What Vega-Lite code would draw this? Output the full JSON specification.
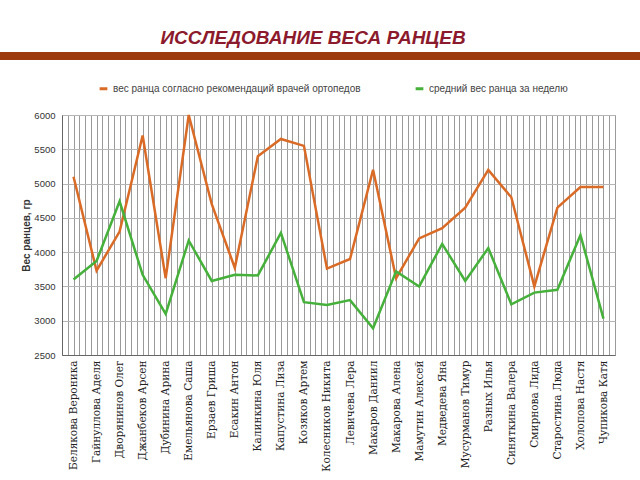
{
  "$schema": "https://vega.github.io/schema/vega-lite/v6.json",
  "padding": {"left": 0, "right": 0, "top": 29, "bottom": 0},
  "background": "white",
  "spacing": 55,
  "bounds": "flush",
  "datasets": {
    "weights": [
      {"name": "Белякова Вероника", "series": "вес ранца согласно рекомендаций врачей ортопедов", "value": 5100},
      {"name": "Гайнуллова Аделя", "series": "вес ранца согласно рекомендаций врачей ортопедов", "value": 3730},
      {"name": "Дворянинов Олег", "series": "вес ранца согласно рекомендаций врачей ортопедов", "value": 4300},
      {"name": "Джанбеков Арсен", "series": "вес ранца согласно рекомендаций врачей ортопедов", "value": 5700},
      {"name": "Дубинина Арина", "series": "вес ранца согласно рекомендаций врачей ортопедов", "value": 3620},
      {"name": "Емельянова Саша", "series": "вес ранца согласно рекомендаций врачей ортопедов", "value": 6000},
      {"name": "Ерзаев Гриша", "series": "вес ранца согласно рекомендаций врачей ортопедов", "value": 4700},
      {"name": "Есакин Антон", "series": "вес ранца согласно рекомендаций врачей ортопедов", "value": 3770},
      {"name": "Калинкина Юля", "series": "вес ранца согласно рекомендаций врачей ортопедов", "value": 5400},
      {"name": "Капустина Лиза", "series": "вес ранца согласно рекомендаций врачей ортопедов", "value": 5650},
      {"name": "Козяков Артем", "series": "вес ранца согласно рекомендаций врачей ортопедов", "value": 5550},
      {"name": "Колесников Никита", "series": "вес ранца согласно рекомендаций врачей ортопедов", "value": 3760},
      {"name": "Левичева Лера", "series": "вес ранца согласно рекомендаций врачей ортопедов", "value": 3900},
      {"name": "Макаров Даниил", "series": "вес ранца согласно рекомендаций врачей ортопедов", "value": 5200},
      {"name": "Макарова Алена", "series": "вес ранца согласно рекомендаций врачей ортопедов", "value": 3620},
      {"name": "Мамутин Алексей", "series": "вес ранца согласно рекомендаций врачей ортопедов", "value": 4200},
      {"name": "Медведева Яна", "series": "вес ранца согласно рекомендаций врачей ортопедов", "value": 4350},
      {"name": "Мусурманов Тимур", "series": "вес ранца согласно рекомендаций врачей ортопедов", "value": 4650},
      {"name": "Разных Илья", "series": "вес ранца согласно рекомендаций врачей ортопедов", "value": 5200},
      {"name": "Синяткина Валера", "series": "вес ранца согласно рекомендаций врачей ортопедов", "value": 4800},
      {"name": "Смирнова Лида", "series": "вес ранца согласно рекомендаций врачей ортопедов", "value": 3500},
      {"name": "Старостина Люда", "series": "вес ранца согласно рекомендаций врачей ортопедов", "value": 4650},
      {"name": "Холопова Настя", "series": "вес ранца согласно рекомендаций врачей ортопедов", "value": 4950},
      {"name": "Чупикова Катя", "series": "вес ранца согласно рекомендаций врачей ортопедов", "value": 4950},
      {"name": "Белякова Вероника", "series": "средний вес ранца за неделю", "value": 3600},
      {"name": "Гайнуллова Аделя", "series": "средний вес ранца за неделю", "value": 3870},
      {"name": "Дворянинов Олег", "series": "средний вес ранца за неделю", "value": 4740},
      {"name": "Джанбеков Арсен", "series": "средний вес ранца за неделю", "value": 3670},
      {"name": "Дубинина Арина", "series": "средний вес ранца за неделю", "value": 3100},
      {"name": "Емельянова Саша", "series": "средний вес ранца за неделю", "value": 4170},
      {"name": "Ерзаев Гриша", "series": "средний вес ранца за неделю", "value": 3580},
      {"name": "Есакин Антон", "series": "средний вес ранца за неделю", "value": 3670},
      {"name": "Калинкина Юля", "series": "средний вес ранца за неделю", "value": 3660},
      {"name": "Капустина Лиза", "series": "средний вес ранца за неделю", "value": 4280},
      {"name": "Козяков Артем", "series": "средний вес ранца за неделю", "value": 3270},
      {"name": "Колесников Никита", "series": "средний вес ранца за неделю", "value": 3230},
      {"name": "Левичева Лера", "series": "средний вес ранца за неделю", "value": 3300},
      {"name": "Макаров Даниил", "series": "средний вес ранца за неделю", "value": 2890},
      {"name": "Макарова Алена", "series": "средний вес ранца за неделю", "value": 3720},
      {"name": "Мамутин Алексей", "series": "средний вес ранца за неделю", "value": 3500},
      {"name": "Медведева Яна", "series": "средний вес ранца за неделю", "value": 4120},
      {"name": "Мусурманов Тимур", "series": "средний вес ранца за неделю", "value": 3580},
      {"name": "Разных Илья", "series": "средний вес ранца за неделю", "value": 4060},
      {"name": "Синяткина Валера", "series": "средний вес ранца за неделю", "value": 3240},
      {"name": "Смирнова Лида", "series": "средний вес ранца за неделю", "value": 3410},
      {"name": "Старостина Люда", "series": "средний вес ранца за неделю", "value": 3450},
      {"name": "Холопова Настя", "series": "средний вес ранца за неделю", "value": 4250},
      {"name": "Чупикова Катя", "series": "средний вес ранца за неделю", "value": 3030}
    ]
  },
  "vconcat": [
    {
      "title": {
        "text": "ИССЛЕДОВАНИЕ ВЕСА РАНЦЕВ",
        "font": "Liberation Sans",
        "fontSize": 19,
        "fontWeight": "bold",
        "fontStyle": "italic",
        "color": "#8B1A2C",
        "anchor": "middle",
        "dx": -7,
        "offset": 2
      },
      "width": 640,
      "height": 8,
      "view": {"fill": "#9E3B0E", "stroke": null},
      "data": {"values": [{"t": ""}]},
      "mark": {"type": "text"},
      "encoding": {"text": {"field": "t", "type": "nominal"}}
    },
    {
      "spacing": 20,
      "hconcat": [
        {
          "width": 1,
          "height": 240,
          "view": {"stroke": null},
          "data": {"values": [{"t": ""}]},
          "mark": {"type": "text"},
          "encoding": {"text": {"field": "t", "type": "nominal"}}
        },
        {
          "width": 553,
          "height": 240,
          "view": {"stroke": "#999999"},
          "data": {"name": "weights"},
          "layer": [
            {
              "mark": {"type": "line", "strokeWidth": 2.5},
              "encoding": {
                "x": {
                  "field": "name",
                  "type": "nominal",
                  "sort": null,
                  "scale": {"type": "point", "padding": 0.5},
                  "axis": {
                    "title": null,
                    "grid": false,
                    "ticks": false,
                    "labelAngle": -90,
                    "labelFont": "DejaVu Serif",
                    "labelFontSize": 10.5,
                    "labelColor": "#222222",
                    "labelPadding": 5,
                    "domainColor": "#666666"
                  }
                },
                "y": {
                  "field": "value",
                  "type": "quantitative",
                  "scale": {"domain": [2500, 6000], "nice": false, "zero": false},
                  "axis": {
                    "values": [2500, 3000, 3500, 4000, 4500, 5000, 5500, 6000],
                    "format": "d",
                    "title": "Вес ранцев, гр",
                    "titleFont": "Liberation Sans",
                    "titleFontSize": 10,
                    "titleFontWeight": "bold",
                    "titleColor": "#333333",
                    "titlePadding": 2,
                    "labelFont": "Liberation Sans",
                    "labelFontSize": 9.5,
                    "labelColor": "#333333",
                    "labelPadding": 7,
                    "ticks": false,
                    "grid": true,
                    "gridColor": "#b5b5b5",
                    "domainColor": "#666666"
                  }
                },
                "color": {
                  "field": "series",
                  "type": "nominal",
                  "scale": {
                    "domain": ["вес ранца согласно рекомендаций врачей ортопедов", "средний вес ранца за неделю"],
                    "range": ["#D96B27", "#45B03A"]
                  },
                  "legend": {
                    "title": null,
                    "orient": "none",
                    "direction": "horizontal",
                    "legendX": 98,
                    "legendY": 31,
                    "columnPadding": 48,
                    "symbolType": "stroke",
                    "symbolSize": 60,
                    "symbolStrokeWidth": 3,
                    "labelLimit": 400,
                    "labelFont": "Liberation Sans",
                    "labelFontSize": 10,
                    "labelColor": "#444444"
                  }
                }
              }
            },
            {
              "mark": {"type": "rule", "opacity": 0},
              "encoding": {
                "x": {
                  "datum": 0,
                  "type": "quantitative",
                  "scale": {"domain": [0, 96], "nice": false, "zero": false},
                  "axis": {
                    "orient": "top",
                    "tickCount": 96,
                    "grid": true,
                    "gridColor": "#9a9a9a",
                    "gridWidth": 1,
                    "labels": false,
                    "ticks": false,
                    "domain": false,
                    "title": null
                  }
                }
              }
            }
          ],
          "resolve": {
            "scale": {"x": "independent"},
            "axis": {"x": "independent"}
          }
        }
      ]
    }
  ]
}
